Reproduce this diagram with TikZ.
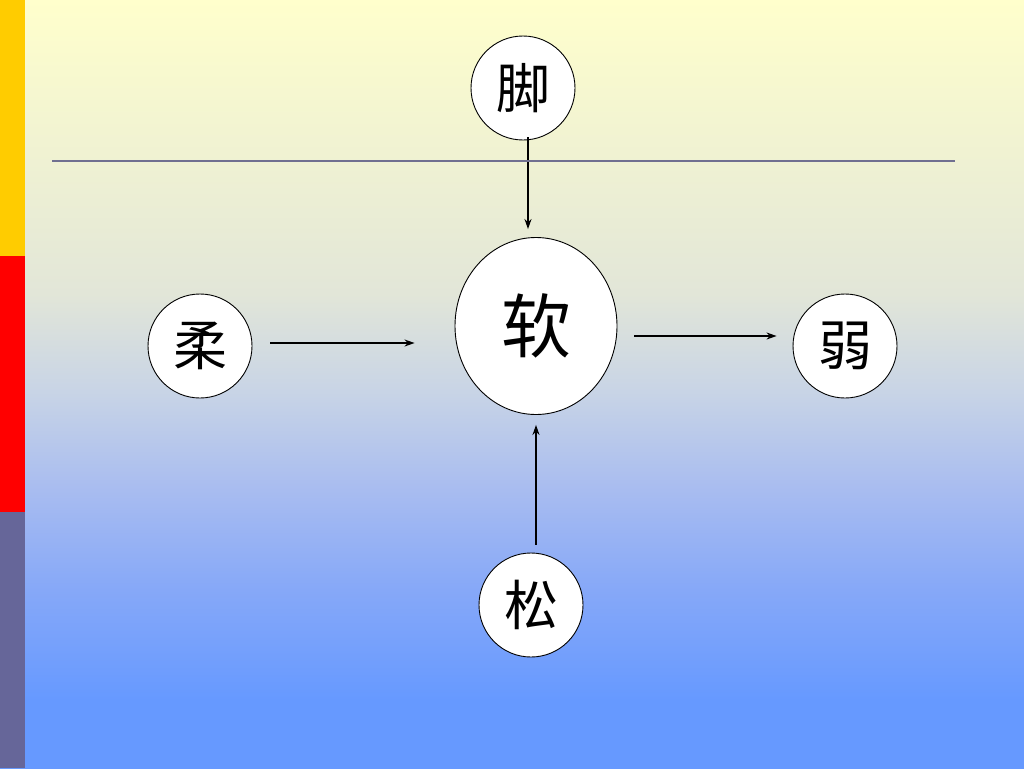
\documentclass[tikz,border=0pt]{standalone}
\usepackage{fontspec}
\usepackage{tikz}
\usetikzlibrary{arrows.meta,shapes.geometric,positioning}
\newfontfamily\cjk{Noto Sans CJK SC}

\definecolor{bgtop}{HTML}{FFFFCC}
\definecolor{bgmid}{HTML}{E2E6D8}
\definecolor{bgpale}{HTML}{C8D4E6}
\definecolor{bgsoft}{HTML}{A8BCF0}
\definecolor{bglow}{HTML}{86A8F8}
\definecolor{bgbot}{HTML}{6699FF}
\definecolor{barone}{HTML}{FFCC00}
\definecolor{bartwo}{HTML}{FF0000}
\definecolor{barthree}{HTML}{666699}
\definecolor{rulecol}{HTML}{707090}

\pgfdeclareverticalshading{slidebg}{100bp}{color(0bp)=(bgbot); color(25bp)=(bgbot);
	color(29.4bp)=(bgbot); color(36.6bp)=(bglow); color(43.1bp)=(bgsoft);
	color(49.5bp)=(bgpale); color(55.9bp)=(bgmid); color(75bp)=(bgtop); color(100bp)=(bgtop)}

\begin{document}
\begin{tikzpicture}[x=1pt,y=-1pt,>={Stealth[length=10pt,width=7pt]},semithick]
	\tikzstyle{word}=[circle,draw=black,fill=white,text=black,line width=0.9pt,
										minimum size=104pt,inner sep=0pt,font=\cjk\fontsize{54}{64}\selectfont]
	\tikzstyle{core}=[ellipse,draw=black,fill=white,text=black,line width=0.9pt,
										minimum width=162pt,minimum height=177pt,inner sep=0pt,
										font=\cjk\fontsize{70}{80}\selectfont]
	\tikzstyle{link}=[->,line width=1.3pt,black]

	% background and side bar
	\useasboundingbox (0,0) rectangle (1024,768);
	\shade[shading=slidebg] (0,0) rectangle (1024,768);
	\fill[barone]   (0,0)   rectangle (25,256);
	\fill[bartwo]   (0,256) rectangle (25,512);
	\fill[barthree] (0,512) rectangle (25,768);

	\node[core] (ruan) at (536,326) {软};
	\node[word] (jiao) at (523,88)  {脚};
	\node[word] (rou)  at (200,346) {柔};
	\node[word] (ruo)  at (845,346) {弱};
	\node[word] (song) at (531,605) {松};

	\draw[link,shorten <=-3pt,shorten >=8pt] ([xshift=5pt]jiao.south) -- ([xshift=-8pt]ruan.north);
	\draw[link,shorten <=18pt,shorten >=40pt] ([yshift=3pt]rou.east) -- ([yshift=3pt]rou.east -| ruan.west);
	\draw[link,shorten <=17pt,shorten >=16pt] ([yshift=-10pt]ruan.east) -- ([yshift=-10pt]ruan.east -| ruo.west);
	\draw[link,shorten <=8pt,shorten >=10pt] ([xshift=5pt]song.north) -- (ruan.south);

	% title rule
	\coordinate (ruleL) at (52,161);
	\coordinate (ruleR) at (955,161);
	\draw[rulecol,line width=2pt] (ruleL) -- (ruleR);
\end{tikzpicture}
\end{document}
